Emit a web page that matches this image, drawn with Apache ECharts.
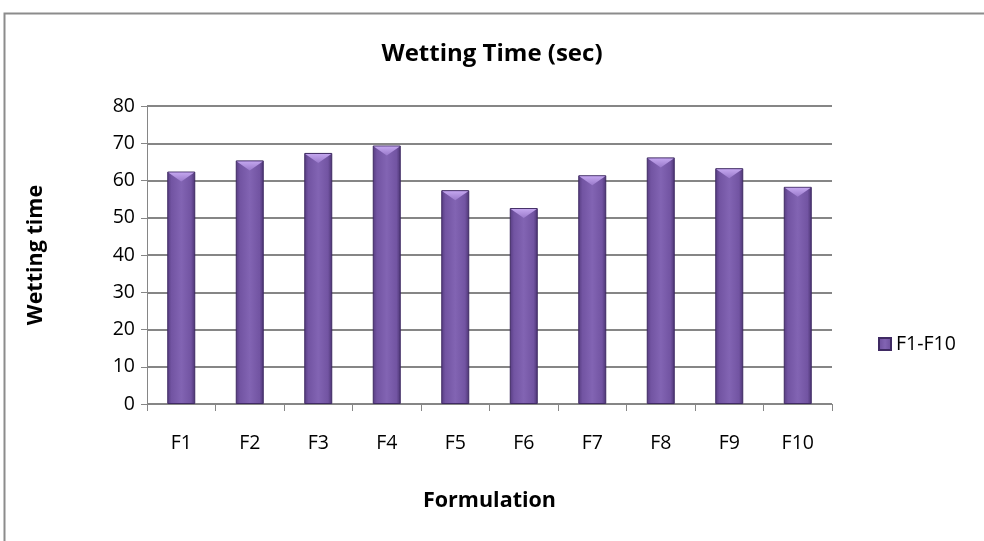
<!DOCTYPE html>
<html>
<head>
<meta charset="utf-8">
<script src="https://cdn.jsdelivr.net/npm/echarts@6/dist/echarts.min.js"></script>
<style>
  html, body { margin: 0; padding: 0; background: #fff; }
  #chart { width: 984px; height: 541px; }
</style>
</head>
<body>
<div id="chart"></div>
<script>
// Wetting time per formulation
const categories = ['F1', 'F2', 'F3', 'F4', 'F5', 'F6', 'F7', 'F8', 'F9', 'F10'];
const wettingTime = [62.4, 65.4, 67.4, 69.4, 57.4, 52.6, 61.4, 66.2, 63.3, 58.3];
const yTicks = { min: 0, max: 80, interval: 10 };

const FONT = '"Open Sans", Lato, sans-serif';
const BAR_W = 28;
const chart = echarts.init(document.getElementById('chart'), null, { renderer: 'canvas' });

const barFill = new echarts.graphic.LinearGradient(0, 0, 1, 0, [
  { offset: 0, color: '#563c80' },
  { offset: 0.15, color: '#7254a2' },
  { offset: 0.5, color: '#8264b3' },
  { offset: 0.85, color: '#7254a2' },
  { offset: 1, color: '#4b3472' }
]);

const capFill = new echarts.graphic.LinearGradient(0, 0, 0, 1, [
  { offset: 0, color: '#c3a6ee' },
  { offset: 1, color: '#9a7acb' }
]);

chart.setOption({
  animation: false,
  backgroundColor: '#fff',
  graphic: [{
    type: 'rect',
    shape: { x: 4.5, y: 13.5, width: 990, height: 540 },
    style: { fill: 'none', stroke: '#8c8c8c', lineWidth: 2 },
    silent: true
  }],
  title: {
    text: 'Wetting Time (sec)',
    left: 'center',
    top: 37,
    textStyle: { fontFamily: FONT, fontSize: 24, fontWeight: 'bold', color: '#000' }
  },
  legend: {
    data: [{ name: 'F1-F10', icon: 'rect' }],
    orient: 'vertical',
    left: 873,
    top: 329,
    itemWidth: 12,
    itemHeight: 12,
    itemGap: 8,
    textStyle: { fontFamily: FONT, fontSize: 19.5, color: '#000' }
  },
  grid: { left: 147, right: 152, top: 106, bottom: 137, containLabel: false },
  xAxis: {
    type: 'category',
    data: categories,
    name: 'Formulation',
    nameLocation: 'middle',
    nameGap: 86,
    nameTextStyle: { fontFamily: FONT, fontSize: 21.5, fontWeight: 'bold', color: '#000' },
    axisLine: { lineStyle: { color: '#868686', width: 1 } },
    axisTick: { show: true, length: 7, lineStyle: { color: '#868686' } },
    axisLabel: { fontFamily: FONT, fontSize: 19.5, color: '#000', margin: 29 },
    splitLine: { show: false }
  },
  yAxis: {
    type: 'value',
    min: yTicks.min,
    max: yTicks.max,
    interval: yTicks.interval,
    name: 'Wetting time',
    nameLocation: 'middle',
    nameGap: 100,
    nameRotate: 90,
    nameTextStyle: { fontFamily: FONT, fontSize: 21.5, fontWeight: 'bold', color: '#000' },
    axisLine: { show: true, lineStyle: { color: '#868686', width: 1 } },
    axisTick: { show: true, length: 6, inside: false, lineStyle: { color: '#868686' } },
    axisLabel: { fontFamily: FONT, fontSize: 19.5, color: '#000', margin: 12 },
    splitLine: { show: true, lineStyle: { color: '#868686', width: 2 } }
  },
  series: [{
    name: 'F1-F10',
    type: 'bar',
    data: wettingTime,
    barWidth: BAR_W,
    itemStyle: { color: barFill, borderColor: '#3f2a63', borderWidth: 1 }
  }, {
    // bevelled highlight on the top of each bar
    name: 'cap',
    type: 'pictorialBar',
    data: wettingTime,
    symbol: 'path://M0,0 L28,0 L14,8 Z',
    symbolSize: [BAR_W - 2, 9],
    symbolPosition: 'end',
    symbolOffset: [0, 1],
    z: 3,
    silent: true,
    itemStyle: { color: capFill }
  }]
});
</script>
</body>
</html>
